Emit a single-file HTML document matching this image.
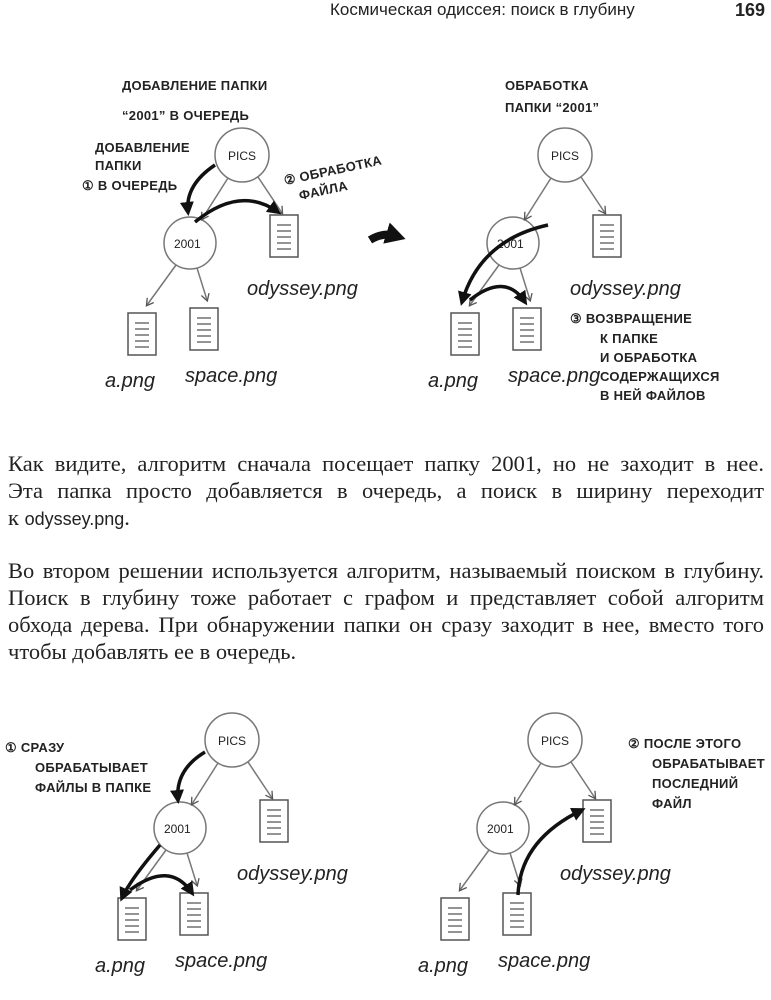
<!DOCTYPE html>
<html><head><meta charset="utf-8">
<style>
html,body{margin:0;padding:0;background:#fff;}
body{width:771px;height:1000px;position:relative;overflow:hidden;font-family:"Liberation Serif","DejaVu Serif",serif;}
.hdr{position:absolute;top:0;left:330px;width:435px;font-family:"Liberation Sans",sans-serif;font-size:17px;color:#222;}
.hdr b{position:absolute;right:0;top:0;font-size:18px}
.l{position:absolute;left:8px;width:756px;font-size:22.5px;line-height:27px;color:#222;text-align:justify;text-align-last:justify;white-space:nowrap;}
.l.e{text-align-last:left}
.l span{font-family:"Liberation Sans",sans-serif;font-size:18px}
svg{position:absolute;left:0;top:0}
svg text{font-family:"Liberation Sans",sans-serif;fill:#222}
.h{font-weight:bold;font-size:13px;letter-spacing:0.3px}
.f{font-size:20px;font-style:italic}
</style></head><body>
<div class="hdr">Космическая одиссея: поиск в глубину<b>169</b></div>
<div class="l" style="top:450px">Как видите, алгоритм сначала посещает папку 2001, но не заходит в нее.</div>
<div class="l" style="top:477px">Эта папка просто добавляется в очередь, а поиск в ширину переходит</div>
<div class="l e" style="top:504px">к <span>odyssey.png</span>.</div>
<div class="l" style="top:557px">Во втором решении используется алгоритм, называемый поиском в глубину.</div>
<div class="l" style="top:584px">Поиск в глубину тоже работает с графом и представляет собой алгоритм</div>
<div class="l" style="top:611px">обхода дерева. При обнаружении папки он сразу заходит в нее, вместо того</div>
<div class="l e" style="top:638px">чтобы добавлять ее в очередь.</div>
<svg width="771" height="1000" viewBox="0 0 771 1000">
<defs>
<marker id="a" markerUnits="userSpaceOnUse" markerWidth="10" markerHeight="10" refX="7" refY="5" orient="auto"><path d="M1,1 L8,5 L1,9" fill="none" stroke="#555" stroke-width="1.3"/></marker>
<marker id="b" markerUnits="userSpaceOnUse" markerWidth="16" markerHeight="16" refX="10" refY="8" orient="auto"><path d="M0,1 L14,8 L0,15 z" fill="#111"/></marker>
<marker id="c" markerUnits="userSpaceOnUse" markerWidth="24" markerHeight="24" refX="10" refY="12" orient="auto"><path d="M0,1 L20,12 L0,23 z" fill="#111"/></marker>
<g id="doc"><rect x="0" y="0" width="28" height="42" fill="#fff" stroke="#555" stroke-width="1.5"/><path d="M7,10h14M7,16h14M7,22h14M7,28h14M7,34h14" stroke="#555" stroke-width="1.3"/></g>
<g id="tree">
<circle cx="0" cy="0" r="27" fill="#fff" stroke="#777" stroke-width="1.5"/>
<text x="-14" y="5" font-size="12">PICS</text>
<circle cx="-52" cy="88" r="26" fill="#fff" stroke="#777" stroke-width="1.5"/>
<text x="-68" y="93" font-size="12">2001</text>
<path d="M-14,23 L-40,64" stroke="#777" stroke-width="1.5" marker-end="url(#a)"/>
<path d="M16,22 L40,58" stroke="#777" stroke-width="1.5" marker-end="url(#a)"/>
<path d="M-66,110 L-95,150" stroke="#777" stroke-width="1.5" marker-end="url(#a)"/>
<path d="M-45,113 L-35,145" stroke="#777" stroke-width="1.5" marker-end="url(#a)"/>
<use href="#doc" x="28" y="60"/>
<use href="#doc" x="-114" y="158"/>
<use href="#doc" x="-52" y="153"/>
<text class="f" x="5" y="140">odyssey.png</text>
<text class="f" x="-137" y="232">a.png</text>
<text class="f" x="-57" y="227">space.png</text>
</g>
</defs>
<use href="#tree" x="242" y="155"/>
<text class="h" x="122" y="90" font-size="15">ДОБАВЛЕНИЕ ПАПКИ</text>
<text class="h" x="122" y="120" font-size="15">“2001” В ОЧЕРЕДЬ</text>
<text class="h" x="95" y="152">ДОБАВЛЕНИЕ</text>
<text class="h" x="95" y="170">ПАПКИ</text>
<text class="h" x="82" y="190">① В ОЧЕРЕДЬ</text>
<text class="h" x="285" y="185" transform="rotate(-12 285 185)">② ОБРАБОТКА</text>
<text class="h" x="300" y="200" transform="rotate(-12 300 200)">ФАЙЛА</text>
<path d="M215,165 Q185,185 188,212" fill="none" stroke="#111" stroke-width="3.5" marker-end="url(#b)"/>
<path d="M195,222 Q240,185 278,212" fill="none" stroke="#111" stroke-width="3.5" marker-end="url(#b)"/>
<path d="M370,240 Q383,232 396,236" fill="none" stroke="#111" stroke-width="8" marker-end="url(#c)"/>
<use href="#tree" x="565" y="155"/>
<text class="h" x="505" y="90" font-size="15">ОБРАБОТКА</text>
<text class="h" x="505" y="112" font-size="15">ПАПКИ “2001”</text>
<text class="h" x="570" y="323">③ ВОЗВРАЩЕНИЕ</text>
<text class="h" x="600" y="343">К ПАПКЕ</text>
<text class="h" x="600" y="362">И ОБРАБОТКА</text>
<text class="h" x="600" y="381">СОДЕРЖАЩИХСЯ</text>
<text class="h" x="600" y="400">В НЕЙ ФАЙЛОВ</text>
<path d="M548,225 Q480,240 462,302" fill="none" stroke="#111" stroke-width="3.5" marker-end="url(#b)"/>
<path d="M470,300 Q505,272 525,302" fill="none" stroke="#111" stroke-width="3.5" marker-end="url(#b)"/>
<use href="#tree" x="232" y="740"/>
<text class="h" x="5" y="752">① СРАЗУ</text>
<text class="h" x="35" y="772">ОБРАБАТЫВАЕТ</text>
<text class="h" x="35" y="792">ФАЙЛЫ В ПАПКЕ</text>
<path d="M205,752 Q175,770 178,800" fill="none" stroke="#111" stroke-width="3.5" marker-end="url(#b)"/>
<path d="M160,845 Q130,880 122,898" fill="none" stroke="#111" stroke-width="3.5" marker-end="url(#b)"/>
<path d="M130,890 Q170,860 192,893" fill="none" stroke="#111" stroke-width="3.5" marker-end="url(#b)"/>
<use href="#tree" x="555" y="740"/>
<text class="h" x="628" y="748">② ПОСЛЕ ЭТОГО</text>
<text class="h" x="652" y="768">ОБРАБАТЫВАЕТ</text>
<text class="h" x="652" y="788">ПОСЛЕДНИЙ</text>
<text class="h" x="652" y="808">ФАЙЛ</text>
<path d="M518,895 Q520,840 582,810" fill="none" stroke="#111" stroke-width="3.5" marker-end="url(#b)"/>
</svg>
</body></html>
